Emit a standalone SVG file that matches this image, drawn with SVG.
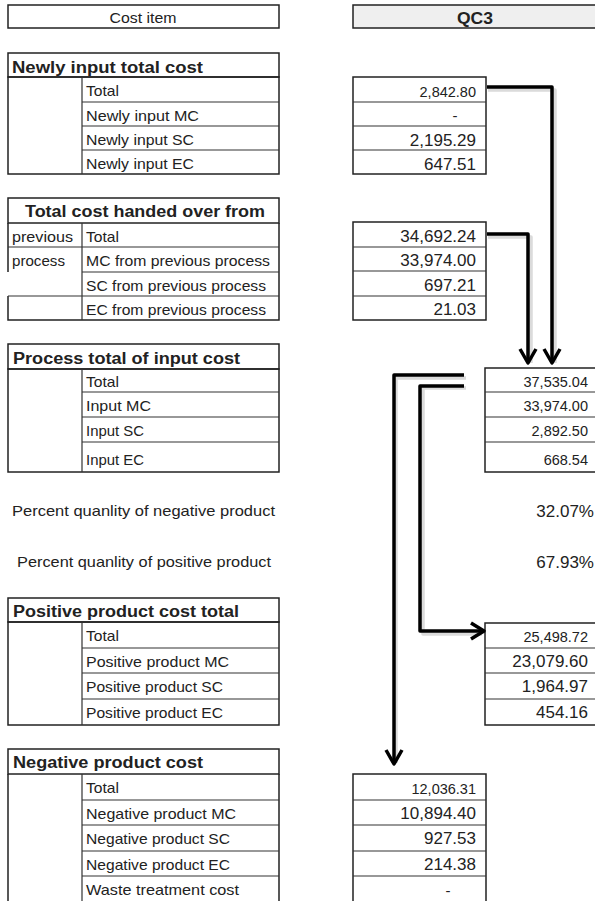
<svg xmlns="http://www.w3.org/2000/svg" width="595" height="901" viewBox="0 0 595 901">
<style>
.b{fill:none;stroke:#222;stroke-width:1.5}
.l{fill:none;stroke:#333;stroke-width:1.2}
.t{font-family:"Liberation Sans",Arial,sans-serif;font-size:15px;fill:#222}
.h{font-weight:bold;font-size:16px}
.n{font-size:17px;text-anchor:end}
.s{font-size:14.5px;text-anchor:end}
.c{text-anchor:middle}
.a{fill:none;stroke:#000;stroke-width:3.5;stroke-linejoin:round}
.sh{fill:none;stroke:#999;stroke-width:3.5;stroke-linejoin:round;opacity:0.35}
</style>
<rect width="595" height="901" fill="#fff"/>
<g id="header-cost-item">
<rect class="b" x="8" y="5" width="271" height="23"/>
<text class="t c" x="143" y="23" textLength="67" lengthAdjust="spacingAndGlyphs">Cost item</text>
</g>
<g id="header-qc3">
<rect x="353" y="5" width="243" height="23" fill="#efefef" stroke="#222" stroke-width="1.5"/>
<text class="t h c" x="475" y="24" textLength="36" lengthAdjust="spacingAndGlyphs">QC3</text>
</g>

<g id="newly-input-labels">
<rect class="b" x="8" y="53" width="271" height="24"/>
<rect class="b" x="8" y="77" width="271" height="97"/>
<path class="l" d="M82,77V174M82,102H279M82,126H279M82,150H279"/>
<text class="t h" x="12" y="73" textLength="191" lengthAdjust="spacingAndGlyphs">Newly input total cost</text>
<text class="t" x="86" y="96" textLength="33" lengthAdjust="spacingAndGlyphs">Total</text>
<text class="t" x="86" y="121" textLength="113" lengthAdjust="spacingAndGlyphs">Newly input MC</text>
<text class="t" x="86" y="145" textLength="108" lengthAdjust="spacingAndGlyphs">Newly input SC</text>
<text class="t" x="86" y="169" textLength="108" lengthAdjust="spacingAndGlyphs">Newly input EC</text>
</g>
<g id="newly-input-values">
<rect class="b" x="353" y="77" width="133" height="97"/>
<path class="l" d="M353,102H486M353,126H486M353,150H486"/>
<text class="t s" x="476" y="97">2,842.80</text>
<text class="t c" x="455" y="121">-</text>
<text class="t n" x="476" y="146">2,195.29</text>
<text class="t n" x="476" y="170">647.51</text>
</g>

<g id="handed-over-labels">
<rect class="b" x="8" y="198" width="271" height="25"/>
<path class="b" d="M8,223V272M8,296V320H279V223"/>
<path class="l" d="M82,223V320M8,247H279M82,272H279M8,296H279"/>
<text class="t h c" x="145" y="217" textLength="240" lengthAdjust="spacingAndGlyphs">Total cost handed over from</text>
<text class="t" x="12" y="242" textLength="61" lengthAdjust="spacingAndGlyphs">previous</text>
<text class="t" x="12" y="266" textLength="53" lengthAdjust="spacingAndGlyphs">process</text>
<text class="t" x="86" y="242" textLength="33" lengthAdjust="spacingAndGlyphs">Total</text>
<text class="t" x="86" y="266" textLength="184" lengthAdjust="spacingAndGlyphs">MC from previous process</text>
<text class="t" x="86" y="291" textLength="180" lengthAdjust="spacingAndGlyphs">SC from previous process</text>
<text class="t" x="86" y="315" textLength="180" lengthAdjust="spacingAndGlyphs">EC from previous process</text>
</g>
<g id="handed-over-values">
<rect class="b" x="353" y="222" width="133" height="98"/>
<path class="l" d="M353,247H486M353,271H486M353,296H486"/>
<text class="t n" x="476" y="242">34,692.24</text>
<text class="t n" x="476" y="266">33,974.00</text>
<text class="t n" x="476" y="291">697.21</text>
<text class="t n" x="476" y="315">21.03</text>
</g>

<g id="process-total-labels">
<rect class="b" x="8" y="344" width="271" height="25"/>
<rect class="b" x="8" y="369" width="271" height="103"/>
<path class="l" d="M82,369V472M82,392H279M82,417H279M82,442H279"/>
<text class="t h" x="13" y="364" textLength="227" lengthAdjust="spacingAndGlyphs">Process total of input cost</text>
<text class="t" x="86" y="387" textLength="33" lengthAdjust="spacingAndGlyphs">Total</text>
<text class="t" x="86" y="411" textLength="65" lengthAdjust="spacingAndGlyphs">Input MC</text>
<text class="t" x="86" y="436" textLength="58" lengthAdjust="spacingAndGlyphs">Input SC</text>
<text class="t" x="86" y="465" textLength="58" lengthAdjust="spacingAndGlyphs">Input EC</text>
</g>
<g id="process-total-values">
<rect class="b" x="485" y="368" width="112" height="104"/>
<path class="l" d="M485,392H596M485,417H596M485,442H596"/>
<text class="t s" x="588" y="387">37,535.04</text>
<text class="t s" x="588" y="411">33,974.00</text>
<text class="t s" x="588" y="436">2,892.50</text>
<text class="t s" x="588" y="465">668.54</text>
</g>

<g id="percent-negative">
<text class="t" x="12" y="516" textLength="263" lengthAdjust="spacingAndGlyphs">Percent quanlity of negative product</text>
<text class="t n" x="594" y="517">32.07%</text>
</g>
<g id="percent-positive">
<text class="t" x="17" y="567" textLength="254" lengthAdjust="spacingAndGlyphs">Percent quanlity of positive product</text>
<text class="t n" x="594" y="568">67.93%</text>
</g>

<g id="positive-labels">
<rect class="b" x="8" y="598" width="271" height="24"/>
<rect class="b" x="8" y="622" width="271" height="103"/>
<path class="l" d="M82,622V725M82,648H279M82,673H279M82,699H279"/>
<text class="t h" x="13" y="617" textLength="226" lengthAdjust="spacingAndGlyphs">Positive product cost total</text>
<text class="t" x="86" y="641" textLength="33" lengthAdjust="spacingAndGlyphs">Total</text>
<text class="t" x="86" y="667" textLength="143" lengthAdjust="spacingAndGlyphs">Positive product MC</text>
<text class="t" x="86" y="692" textLength="137" lengthAdjust="spacingAndGlyphs">Positive product SC</text>
<text class="t" x="86" y="718" textLength="137" lengthAdjust="spacingAndGlyphs">Positive product EC</text>
</g>
<g id="positive-values">
<rect class="b" x="485" y="623" width="112" height="102"/>
<path class="l" d="M485,648H596M485,673H596M485,699H596"/>
<text class="t s" x="588" y="642">25,498.72</text>
<text class="t n" x="588" y="667">23,079.60</text>
<text class="t n" x="588" y="692">1,964.97</text>
<text class="t n" x="588" y="718">454.16</text>
</g>

<g id="negative-labels">
<rect class="b" x="8" y="749" width="271" height="25"/>
<path class="b" d="M8,774V902M279,774V902"/>
<path class="l" d="M82,774V902M82,800H279M82,825H279M82,851H279M82,876H279"/>
<text class="t h" x="13" y="768" textLength="190" lengthAdjust="spacingAndGlyphs">Negative product cost</text>
<text class="t" x="86" y="793" textLength="33" lengthAdjust="spacingAndGlyphs">Total</text>
<text class="t" x="86" y="819" textLength="150" lengthAdjust="spacingAndGlyphs">Negative product MC</text>
<text class="t" x="86" y="844" textLength="144" lengthAdjust="spacingAndGlyphs">Negative product SC</text>
<text class="t" x="86" y="870" textLength="144" lengthAdjust="spacingAndGlyphs">Negative product EC</text>
<text class="t" x="86" y="895" textLength="153" lengthAdjust="spacingAndGlyphs">Waste treatment cost</text>
</g>
<g id="negative-values">
<path class="b" d="M353,902V774H486V902"/>
<path class="l" d="M353,800H486M353,825H486M353,851H486M353,876H486"/>
<text class="t s" x="476" y="794">12,036.31</text>
<text class="t n" x="476" y="819">10,894.40</text>
<text class="t n" x="476" y="844">927.53</text>
<text class="t n" x="476" y="870">214.38</text>
<text class="t c" x="448" y="896">-</text>
</g>

<g id="connectors">
<path class="sh" d="M488,90H555V363M488,237H531V363M466,378H396V763M466,388H423V634H482"/>
<path class="a" d="M487,87H552V362"/>
<path class="a" d="M544,349L552,363L560,349"/>
<path class="a" d="M487,234H528V362"/>
<path class="a" d="M520,349L528,363L536,349"/>
<path class="a" d="M464,375H394V763"/>
<path class="a" d="M386,750L394,764L402,750"/>
<path class="a" d="M464,386H420V631H483"/>
<path class="a" d="M471,623L484,631L471,639"/>
</g>
</svg>
